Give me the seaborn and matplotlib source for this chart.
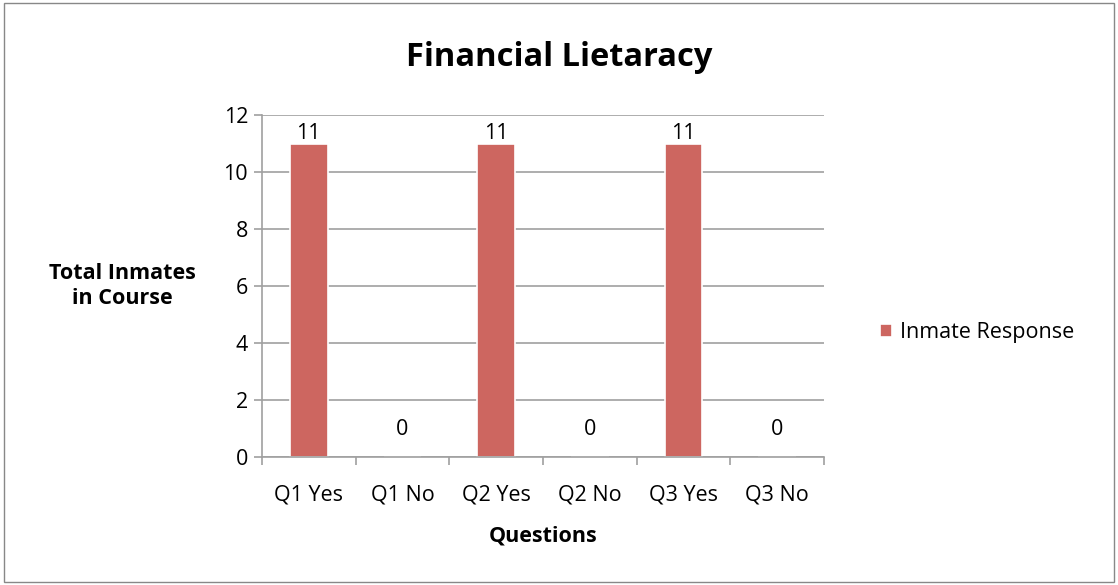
import pandas as pd
import matplotlib.pyplot as plt
import seaborn as sns
from matplotlib.patches import Rectangle

# Chart data
questions = ["Q1 Yes", "Q1 No", "Q2 Yes", "Q2 No", "Q3 Yes", "Q3 No"]
responses = [11, 0, 11, 0, 11, 0]
y_ticks = [0, 2, 4, 6, 8, 10, 12]

df = pd.DataFrame({"Question": questions, "Inmate Response": responses})

sns.set_style("white")
plt.rcParams['font.family'] = ['Open Sans', 'DejaVu Sans']
plt.rcParams['text.color'] = 'black'
plt.rcParams['xtick.color'] = 'black'
plt.rcParams['ytick.color'] = 'black'
plt.rcParams['axes.labelcolor'] = 'black'

fig = plt.figure(figsize=(11.18, 5.85), dpi=100)
ax = fig.add_axes([0.2343, 0.2188, 0.5027, 0.5846])

bar_color = "#CD6660"
sns.barplot(data=df, x="Question", y="Inmate Response", color=bar_color,
            width=0.4, ax=ax, label="Inmate Response", saturation=1,
            edgecolor="white", linewidth=1.2)

# value labels
for i, v in enumerate(responses):
    off = 0 if v > 0 else 12
    ax.annotate(str(v), (i, v), xytext=(0, off), textcoords="offset points",
                ha="center", va="bottom", fontsize=15.5, color="black")

ax.set_xlim(-0.5, 5.5)
ax.set_ylim(0, 12)
ax.set_yticks(y_ticks)
ax.yaxis.grid(True, color="#A0A0A0", linewidth=1.2)
ax.set_axisbelow(True)

for s in ["top", "right"]:
    ax.spines[s].set_visible(False)
for s in ["left", "bottom"]:
    ax.spines[s].set_color("#A0A0A0")
    ax.spines[s].set_linewidth(1.2)

# Excel-style tick marks between categories
ax.set_xticks([i + 0.5 for i in range(-1, len(questions))], minor=True)
ax.tick_params(axis="x", which="major", length=0, pad=20, labelsize=15.5,
               labelcolor="black")
ax.tick_params(axis="x", which="minor", bottom=True, length=6,
               color="#A0A0A0", width=1.2)
ax.tick_params(axis="y", length=6, color="#A0A0A0", width=1.2, labelsize=15.5,
               left=True, pad=4, labelcolor="black")

ax.set_xlabel("Questions", fontsize=15.5, fontweight="bold", labelpad=14,
              color="black")
ax.set_ylabel("Total Inmates\nin Course", fontsize=15.5, fontweight="bold",
              rotation=0, ha="center", va="center", labelpad=0,
              color="black", linespacing=1.3)
ax.yaxis.set_label_coords(-0.249, 0.5)

fig.suptitle("Financial Lietaracy", x=0.5, y=0.93, fontsize=23.5,
             fontweight="bold", color="black")

leg = ax.legend(loc="center left", bbox_to_anchor=(1.065, 0.363), frameon=False,
                fontsize=15.5, handlelength=0.55, handleheight=0.55,
                handletextpad=0.4)
for t in leg.get_texts():
    t.set_color("black")

# outer border
fig.patches.append(Rectangle((0.004, 0.005), 0.992, 0.99, transform=fig.transFigure,
                             fill=False, edgecolor="#888888", linewidth=1))

fig.savefig("out.png", dpi=100)
